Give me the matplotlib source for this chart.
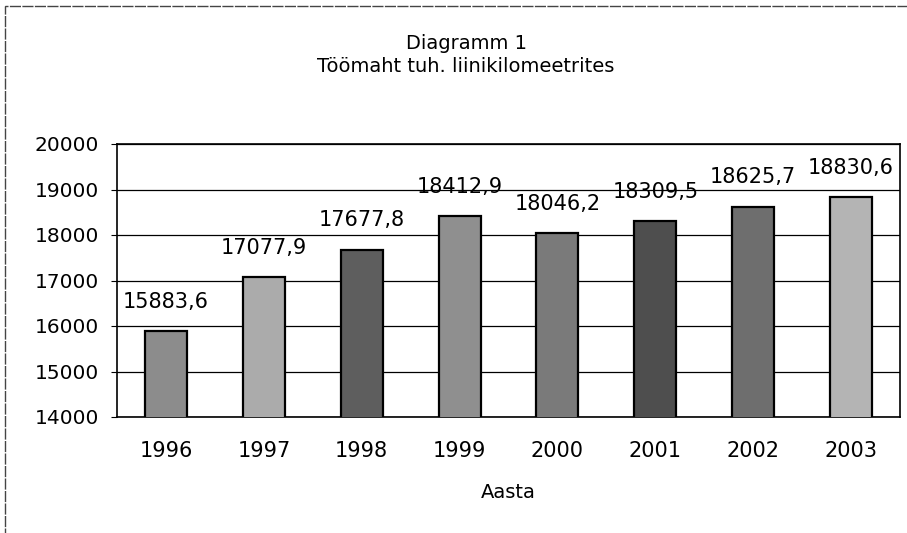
import matplotlib
matplotlib.use('Agg')
import matplotlib.pyplot as plt
from matplotlib.patches import Rectangle

plt.rcParams['font.family'] = ['DejaVu Sans']

years = ['1996', '1997', '1998', '1999', '2000', '2001', '2002', '2003']
values = [15883.6, 17077.9, 17677.8, 18412.9, 18046.2, 18309.5, 18625.7, 18830.6]
labels = ['15883,6', '17077,9', '17677,8', '18412,9', '18046,2', '18309,5', '18625,7', '18830,6']
shades = ['#8c8c8c', '#ababab', '#5e5e5e', '#8f8f8f', '#7a7a7a', '#4e4e4e', '#6e6e6e', '#b4b4b4']

fig = plt.figure(figsize=(9.07, 5.33), dpi=100)
# plot area: x 117..900 px, y 144..417 px
ax = fig.add_axes([117 / 907, 1 - 417 / 533, 783 / 907, 273 / 533])

x = range(len(years))
ax.bar(x, values, width=0.43, bottom=0, color=shades, edgecolor='black', linewidth=1.6, zorder=3)
for i, v in enumerate(values):
    ax.annotate(labels[i], (i, v), xytext=(0, 21), textcoords='offset points',
                ha='center', va='center', fontsize=15)

ax.set_ylim(14000, 20000)
ax.set_xlim(-0.5, len(years) - 0.5)
ax.set_yticks(range(14000, 20001, 1000))
ax.set_xticks(list(x))
ax.set_xticklabels(years)
ax.yaxis.grid(True, color='black', linewidth=0.9, zorder=0)
ax.tick_params(axis='y', length=4, labelsize=14.5, pad=9)
ax.tick_params(axis='x', length=0, labelsize=15, pad=17)
for s in ax.spines.values():
    s.set_color('black')
    s.set_linewidth(1.2)
ax.set_xlabel('Aasta', fontsize=14, labelpad=16)

fig.text(466 / 907, 1 - 43 / 533, 'Diagramm 1', ha='center', va='center', fontsize=14)
fig.text(466 / 907, 1 - 67 / 533, 'Töömaht tuh. liinikilomeetrites', ha='center', va='center', fontsize=14)

fig.patches.append(Rectangle((0.006, -0.02), 1.2, 1.008, transform=fig.transFigure,
                             fill=False, edgecolor='#444444', linewidth=1.0, linestyle=(0, (8, 1))))

fig.savefig('out.png', dpi=100)
